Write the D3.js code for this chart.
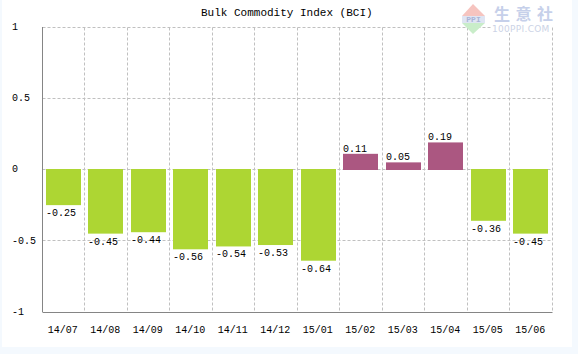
<!DOCTYPE html>
<html>
<head>
<meta charset="utf-8">
<style>
  html, body { margin: 0; padding: 0; background: #f4f9fe; }
  svg { display: block; }
  text { font-family: "Liberation Mono", monospace; font-size: 10px; fill: #000; }
</style>
<script src="https://cdnjs.cloudflare.com/ajax/libs/d3/7.8.5/d3.min.js"></script>
</head>
<body>
<svg id="chart" width="578" height="354"></svg>
<script>
const months = ['14/07', '14/08', '14/09', '14/10', '14/11', '14/12', '15/01', '15/02', '15/03', '15/04', '15/05', '15/06'];
const values = [-0.25, -0.45, -0.44, -0.56, -0.54, -0.53, -0.64, 0.11, 0.05, 0.19, -0.36, -0.45];
const yTicks = [1, 0.5, 0, -0.5, -1];
const chartTitle = 'Bulk Commodity Index (BCI)';

const GRID = '#c0c0c0';
const AXIS = '#858585';
const NEG = '#add633';
const POS = '#ab5781';

const svg = d3.select('#chart');

// white panel on the pale page
svg.append('rect').attr('x', 2).attr('y', 0).attr('width', 570).attr('height', 347).attr('fill', '#fff');

const x = d3.scaleBand().domain(months).range([42.5, 552.5]);
const y = d3.scaleLinear().domain([-1, 1]).range([312, 27]);

// grid
svg.append('g').selectAll('line')
  .data(yTicks.filter(d => d !== -1))
  .enter().append('line')
  .attr('x1', 42.5).attr('x2', 552.5)
  .attr('y1', d => Math.floor(y(d)) + 0.5).attr('y2', d => Math.floor(y(d)) + 0.5)
  .attr('stroke', GRID).attr('stroke-dasharray', '3,2');

svg.append('g').selectAll('line')
  .data(months)
  .enter().append('line')
  .attr('x1', d => Math.ceil(x(d) + x.step()) - 0.5).attr('x2', d => Math.ceil(x(d) + x.step()) - 0.5)
  .attr('y1', 27.5).attr('y2', 312.5)
  .attr('stroke', GRID).attr('stroke-dasharray', '3,2');

// watermark sits over the grid
const logo = svg.append('g').attr('class', 'logo');
logo.append('path').attr('d', 'M462,16 L473,4 L485,16 Z').attr('fill', '#f6c4bf');
logo.append('rect').attr('x', 462).attr('y', 16).attr('width', 23).attr('height', 7).attr('fill', '#dfe5f3');
logo.append('path').attr('d', 'M462,23 L485,23 L473,34 Z').attr('fill', '#c9edc9');
logo.append('text').attr('x', 473.5).attr('y', 22).attr('text-anchor', 'middle')
  .style('font-size', '8px').style('font-weight', 'bold').style('fill', '#a9b4d6').text('PPI');
logo.append('text').attr('x', 494).attr('y', 20)
  .style('font-family', '"Noto Sans CJK SC"').style('font-size', '16px').style('font-weight', 'bold')
  .style('letter-spacing', '5.5px').style('fill', '#c6d0ea').text('生意社');
logo.append('rect').attr('x', 491).attr('y', 24).attr('width', 60.5).attr('height', 9).attr('fill', '#fff');
logo.append('text').attr('x', 492).attr('y', 32)
  .style('font-family', '"DejaVu Sans"').style('font-size', '9px').style('letter-spacing', '0.3px')
  .style('fill', '#ccd3e6').text('100PPI.COM');

// bars
svg.append('g').selectAll('rect')
  .data(values)
  .enter().append('rect')
  .attr('x', (d, i) => Math.ceil(x(months[i])) + 3)
  .attr('width', 35)
  .attr('y', d => d > 0 ? y(d) : 169)
  .attr('height', d => d > 0 ? 170 - y(d) : y(d) - 169)
  .attr('fill', d => d > 0 ? POS : NEG);

// value labels
svg.append('g').selectAll('text')
  .data(values)
  .enter().append('text')
  .attr('x', (d, i) => Math.ceil(x(months[i])) + 3)
  .attr('y', d => d > 0 ? y(d) - 2 : y(d) + 11)
  .text(d => d.toFixed(2));

// axes
const xAxis = svg.append('g').attr('transform', 'translate(0,312.5)')
  .call(d3.axisBottom(x).tickSize(0).tickPadding(0).offset(0));
xAxis.select('.domain').attr('stroke', AXIS);
xAxis.selectAll('text')
  .attr('y', 0).attr('dy', 0)
  .attr('transform', 'translate(-1,20.5)')
  .attr('font-family', null).attr('font-size', null);

const yAxis = svg.append('g').attr('transform', 'translate(42.5,0)')
  .call(d3.axisLeft(y).tickValues(yTicks).tickSize(0).offset(0).tickFormat(d => String(d).replace('−', '-')));
yAxis.select('.domain').attr('stroke', AXIS);
yAxis.selectAll('text')
  .attr('text-anchor', 'start').attr('x', -30.5).attr('dy', '0.28em')
  .attr('font-family', null).attr('font-size', null);

svg.append('text')
  .attr('x', 201).attr('y', 15.5)
  .style('font-size', '11px')
  .text(chartTitle);
</script>
</body>
</html>
